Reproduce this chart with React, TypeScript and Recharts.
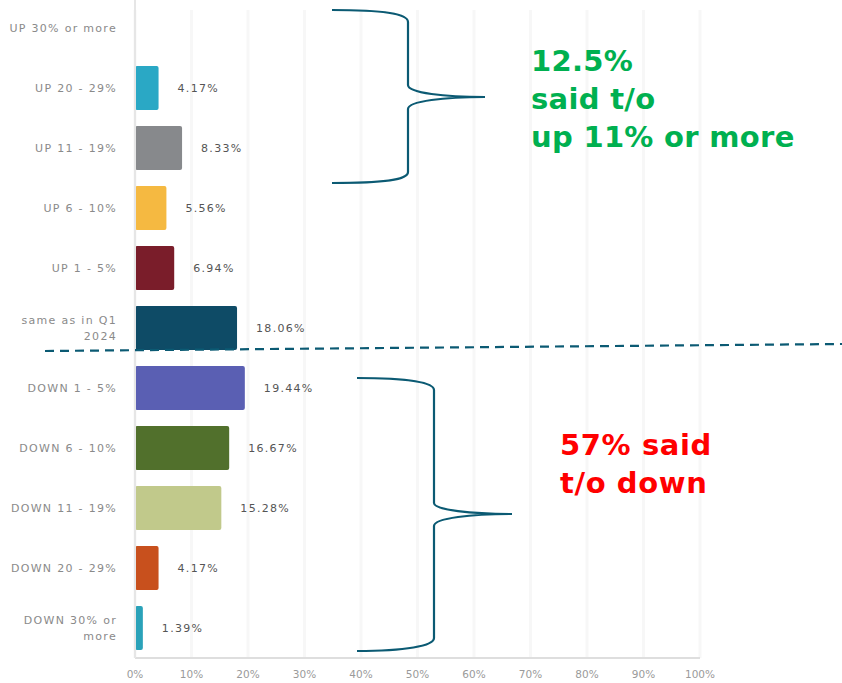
import React from "react";
import { Bar, BarChart, CartesianGrid, Cell, LabelList, XAxis, YAxis } from "recharts";

const categories = [
  "UP 30% or more",
  "UP 20 - 29%",
  "UP 11 - 19%",
  "UP 6 - 10%",
  "UP 1 - 5%",
  "same as in Q1 2024",
  "DOWN 1 - 5%",
  "DOWN 6 - 10%",
  "DOWN 11 - 19%",
  "DOWN 20 - 29%",
  "DOWN 30% or more",
];
const shares = [0, 4.17, 8.33, 5.56, 6.94, 18.06, 19.44, 16.67, 15.28, 4.17, 1.39];
const barColors = [
  "#2aa8c5",
  "#2aa8c5",
  "#87898c",
  "#f5b941",
  "#7a1d2a",
  "#0e4b66",
  "#5a5fb3",
  "#51702c",
  "#c1c98b",
  "#c8501d",
  "#2aa2b9",
];
const xTicks = [0, 10, 20, 30, 40, 50, 60, 70, 80, 90, 100];

const upNote = ["12.5%", "said t/o", "up 11% or more"];
const downNote = ["57% said", "t/o down"];

const data = categories.map((label, i) => ({ label, value: shares[i] }));

const LABEL_FONT = "'DejaVu Sans', sans-serif";
const NAVY = "#0b5a73";

// long labels break before the last word, like the source survey tool
const splitLabel = (s: string) => {
  if (s.length <= 15) return [s];
  const k = s.lastIndexOf(" ");
  return [s.slice(0, k), s.slice(k + 1)];
};

const CategoryTick = (props: any) => {
  const { x, y, payload } = props;
  const lines = splitLabel(String(payload.value));
  const start = -((lines.length - 1) * 16) / 2;
  return (
    <text
      x={x}
      y={y}
      textAnchor="end"
      fill="#8a8a8a"
      fontSize={11}
      fontFamily={LABEL_FONT}
      style={{ letterSpacing: 1.3 }}
    >
      {lines.map((l, i) => (
        <tspan key={i} x={x} dy={i === 0 ? start + 4 : 16}>
          {l}
        </tspan>
      ))}
    </text>
  );
};

const App = () => {
  return (
    <div style={{ position: "absolute", left: 0, top: 0, width: 842, height: 683, background: "#fff", overflow: "hidden" }}>
      <div style={{ position: "absolute", left: 0, top: -2 }}>
        <BarChart
          width={842}
          height={685}
          data={data}
          layout="vertical"
          margin={{ top: 0, right: 142, bottom: 0, left: 0 }}
        >
          <CartesianGrid horizontal={false} stroke="#f7f7f7" strokeWidth={3} y={12} height={648} />
          <XAxis
            type="number"
            domain={[0, 100]}
            ticks={xTicks}
            tickFormatter={(v) => `${v}%`}
            height={25}
            axisLine={{ stroke: "#dedede", strokeWidth: 2 }}
            tickLine={false}
            tickMargin={7}
            tick={{ fill: "#9a9a9a", fontSize: 10.5, fontFamily: LABEL_FONT }}
            interval={0}
          />
          <YAxis
            type="category"
            dataKey="label"
            width={135}
            axisLine={{ stroke: "#e6e6e6", strokeWidth: 2 }}
            tickLine={false}
            tickSize={0}
            tickMargin={18}
            tick={<CategoryTick />}
            interval={0}
          />
          <Bar dataKey="value" barSize={44} radius={2} isAnimationActive={false}>
            {data.map((_, i) => (
              <Cell key={`c-${i}`} fill={barColors[i]} />
            ))}
            <LabelList
              dataKey="value"
              position="right"
              offset={19}
              formatter={(v: any) => (v ? `${Number(v).toFixed(2)}%` : "")}
              fill="#555555"
              fontSize={11}
              fontFamily={LABEL_FONT}
              style={{ letterSpacing: 1.3 }}
            />
          </Bar>
        </BarChart>
      </div>

      <svg
        width={842}
        height={683}
        style={{ position: "absolute", left: 0, top: 0, pointerEvents: "none" }}
      >
        <line x1={45} y1={351} x2={842} y2={344} stroke={NAVY} strokeWidth={2.2} strokeDasharray="9 6" />
        <path
          d="M332,10 C385,10 408,14 408,22 L408,85 C408,93 445,97 485,97 C445,97 408,101 408,109 L408,172 C408,180 385,183 332,183"
          fill="none"
          stroke={NAVY}
          strokeWidth={2.2}
        />
        <path
          d="M357,378 C405,378 434,382 434,390 L434,503 C434,510 472,514 512,514 C472,514 434,518 434,526 L434,638 C434,646 405,651 357,651"
          fill="none"
          stroke={NAVY}
          strokeWidth={2.2}
        />
        <g fontFamily={LABEL_FONT} fontWeight="bold" fontSize={29}>
          {upNote.map((t, i) => (
            <text key={t} x={531} y={[71, 109, 147][i]} fill="#00b050" style={{ letterSpacing: 0.3 }}>
              {t}
            </text>
          ))}
          {downNote.map((t, i) => (
            <text key={t} x={560} y={[455, 493][i]} fill="#ff0000" style={{ letterSpacing: 0.6 }}>
              {t}
            </text>
          ))}
        </g>
      </svg>
    </div>
  );
};

export default App;
